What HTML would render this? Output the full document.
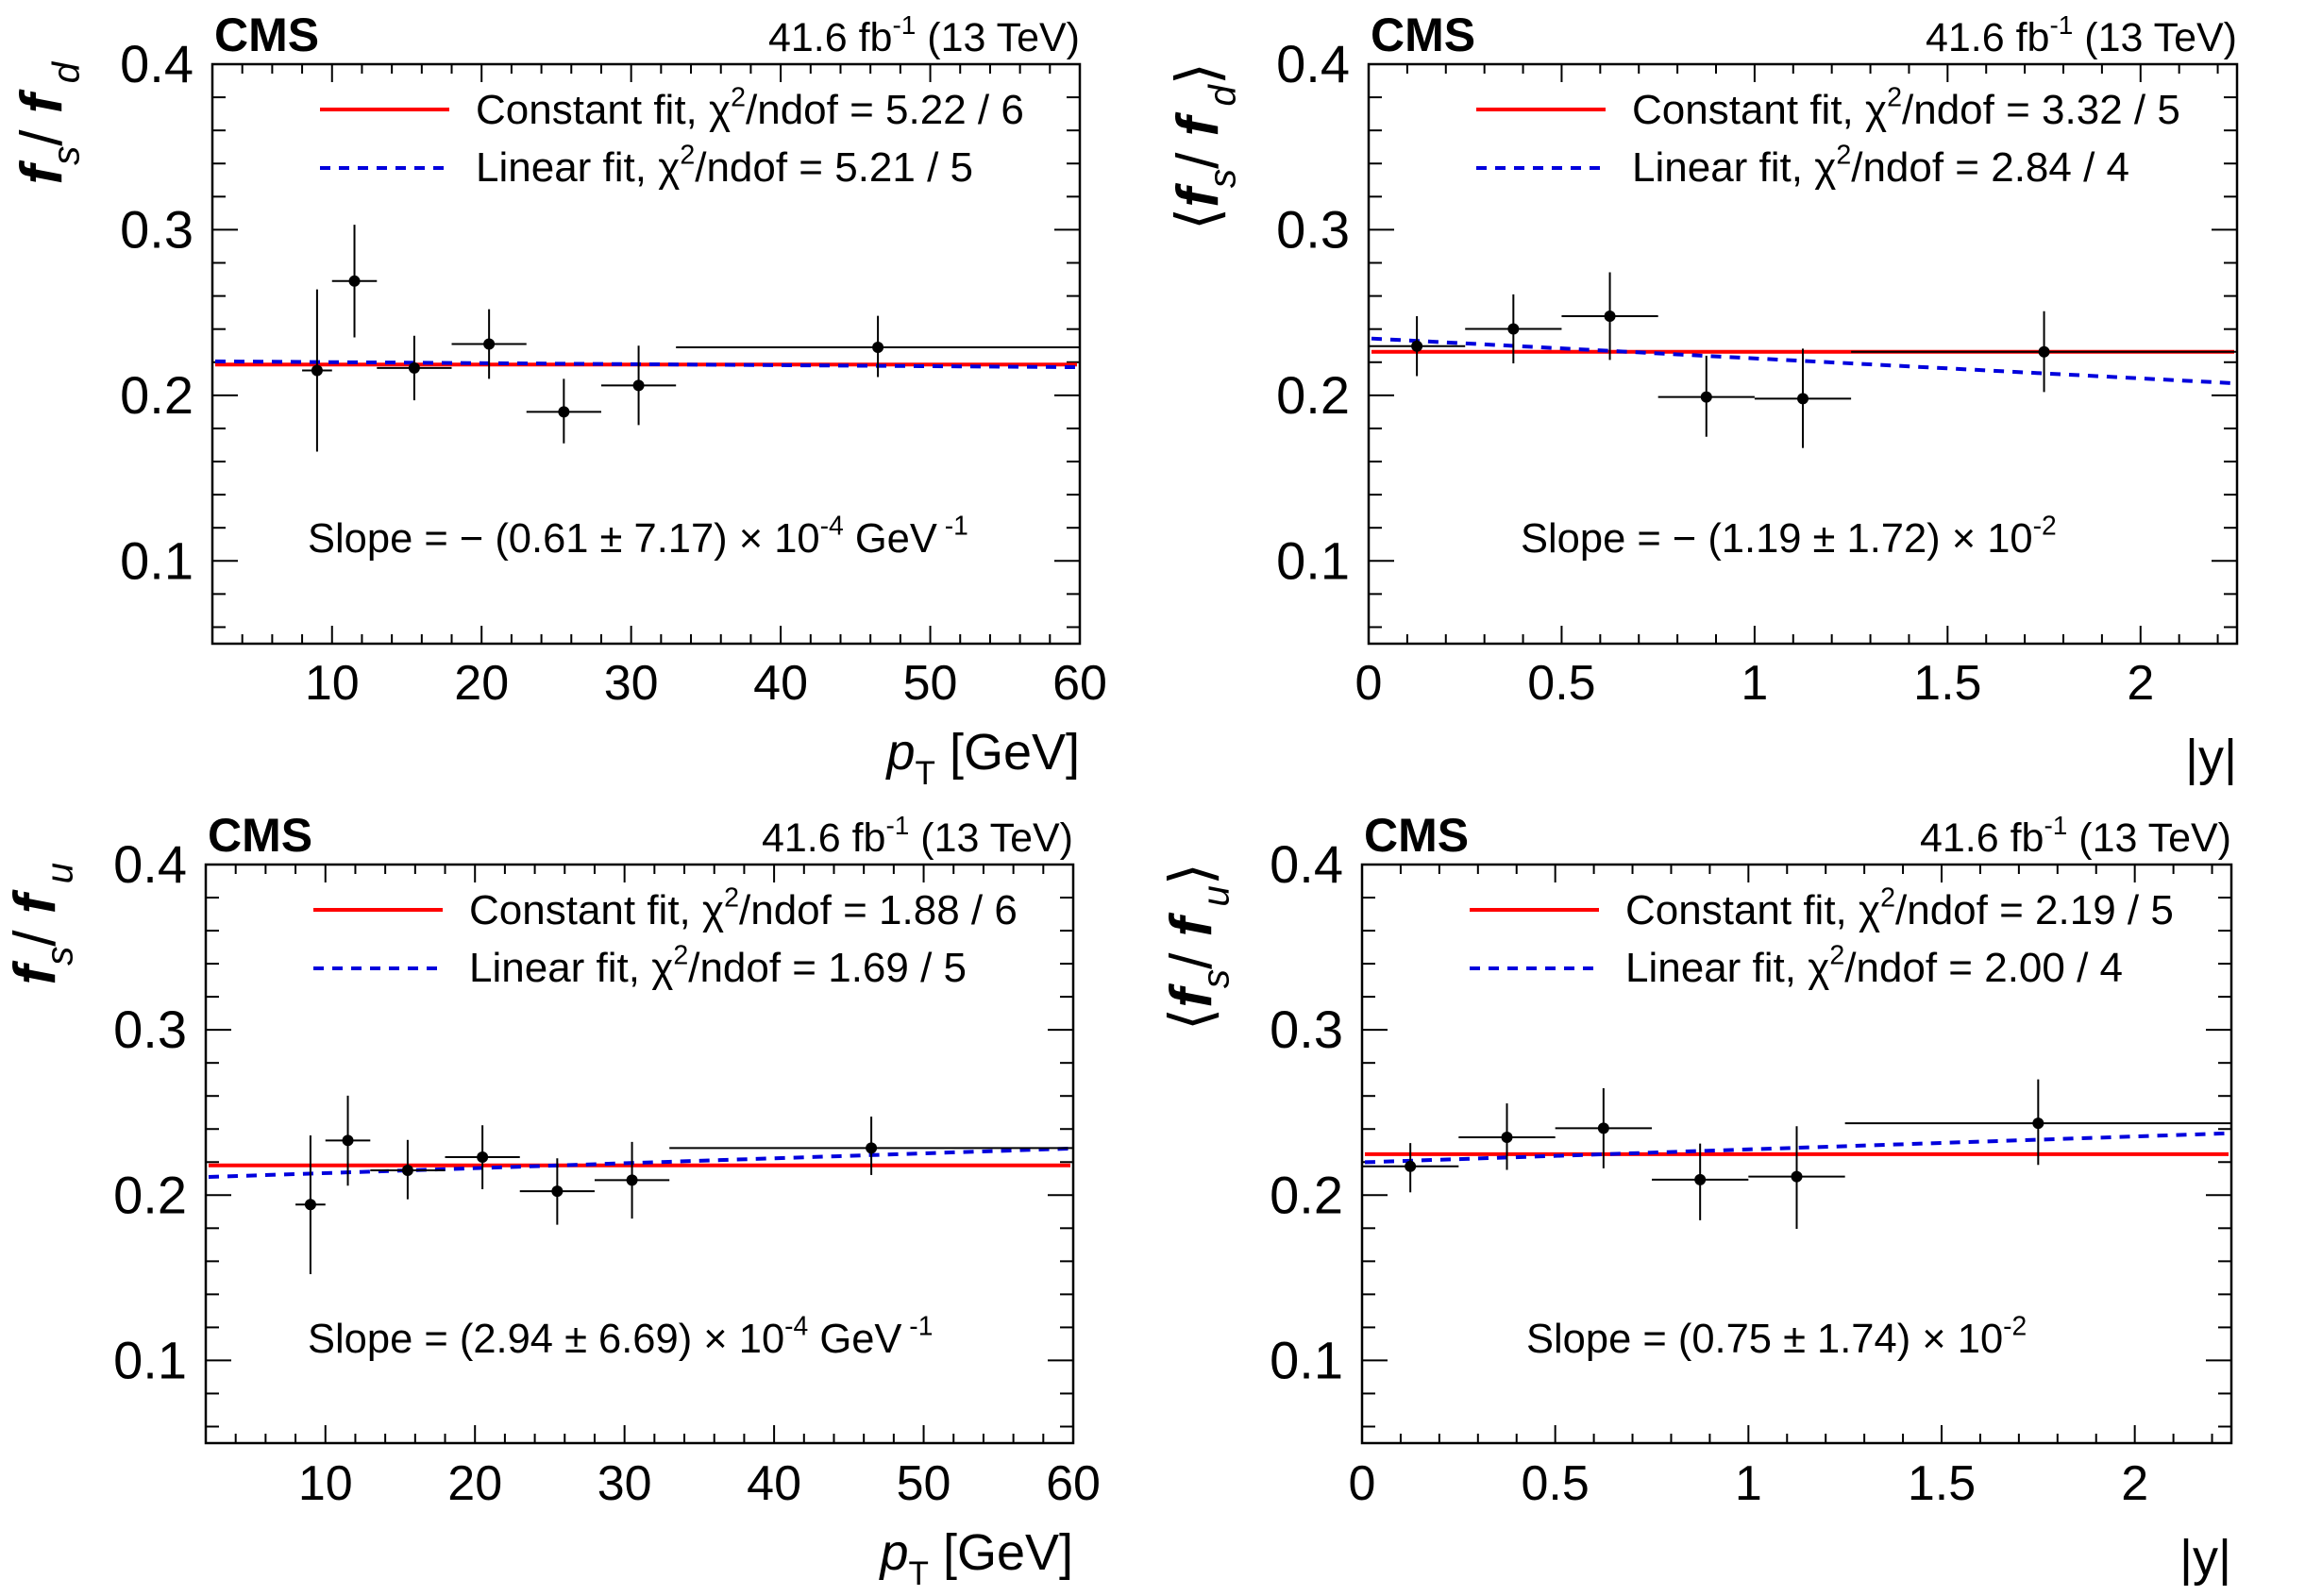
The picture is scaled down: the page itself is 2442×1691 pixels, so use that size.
<!DOCTYPE html>
<html><head><meta charset="utf-8">
<style>
html,body{margin:0;padding:0;background:#fff;}
svg{display:block;font-family:"Liberation Sans",Arial,sans-serif;}
</style></head>
<body>
<svg id="fig" width="2442" height="1691" viewBox="0 0 2442 1691" xmlns="http://www.w3.org/2000/svg"></svg>
<script>
// ---------- data ----------
const ptTicks = [10,20,30,40,50,60];
const ptTickLabels = ["10","20","30","40","50","60"];
const yTicks = [0.1,0.2,0.3,0.4];
const yTickLabels = ["0.1","0.2","0.3","0.4"];
const absyTicks = [0,0.5,1,1.5,2];
const absyTickLabels = ["0","0.5","1","1.5","2"];

const ptX   = [9,11.5,15.5,20.5,25.5,30.5,46.5];
const ptXlo = [8,10,13,18,23,28,33];
const ptXhi = [10,13,18,23,28,33,60];
const yX    = [0.125,0.375,0.625,0.875,1.125,1.75];
const yXlo  = [0,0.25,0.5,0.75,1,1.25];
const yXhi  = [0.25,0.5,0.75,1,1.25,2.25];

const fdPtVal = [0.215,0.269,0.2165,0.231,0.190,0.206,0.229];
const fdPtUp  = [0.264,0.303,0.236,0.252,0.210,0.230,0.248];
const fdPtDn  = [0.166,0.235,0.197,0.210,0.171,0.182,0.211];
const fdPtConst = [0.2186];
const fdPtLin = [0.2205,0.2170];

const fdYVal = [0.2297,0.2401,0.2478,0.199,0.198,0.2263];
const fdYUp  = [0.2478,0.261,0.2743,0.2239,0.2282,0.2508];
const fdYDn  = [0.2116,0.2193,0.2214,0.175,0.1682,0.2020];
const fdYConst = [0.2263];
const fdYLin = [0.2343,0.2073];

const fuPtVal = [0.1943,0.2331,0.215,0.223,0.2024,0.2091,0.2285];
const fuPtUp  = [0.2361,0.2602,0.2334,0.2423,0.2223,0.2322,0.2475];
const fuPtDn  = [0.1522,0.2057,0.1975,0.2036,0.1821,0.1858,0.2122];
const fuPtConst = [0.218];
const fuPtLin = [0.211,0.2282];

const fuYVal = [0.2174,0.235,0.2405,0.2094,0.2112,0.2435];
const fuYUp  = [0.2315,0.2555,0.2647,0.2312,0.2417,0.2700];
const fuYDn  = [0.2017,0.2153,0.2162,0.1848,0.1796,0.2183];
const fuYConst = [0.2248];
const fuYLin = [0.2199,0.2374];

// ---------- drawing ----------
const NS="http://www.w3.org/2000/svg";
const svg=document.getElementById('fig');
function mk(tag,attrs,parent){const e=document.createElementNS(NS,tag);for(const k in attrs)e.setAttribute(k,attrs[k]);(parent||svg).appendChild(e);return e;}

function richText(parent,x,y,parts,size,anchor,extra){
  const t=mk('text',Object.assign({x:x,y:y,'font-size':size,'text-anchor':anchor||'start',fill:'#000'},extra||{}),parent);
  let shift=0;
  parts.forEach(p=>{
    const o={};
    const target=p.sup?-0.42*size:(p.sub?0.3*size:0);
    o.dy=target-shift; shift=target;
    if(p.sup||p.sub)o['font-size']=size*0.65;
    if(p.it)o['font-style']='italic';
    if(p.b)o['font-weight']='bold';
    const s=mk('tspan',o,t); s.textContent=p.t;
  });
  return t;
}

function panel(cfg){
  const g=mk('g',{});  
  const L=cfg.left,T=cfg.top,R=cfg.right,B=cfg.bottom;
  const sx=v=>L+(v-cfg.xmin)/(cfg.xmax-cfg.xmin)*(R-L);
  const sy=v=>B-(v-0.05)/(0.4-0.05)*(B-T);
  const tg=mk('g',{stroke:'#000','stroke-width':2},g);
   
  for(let i=0;;i++){const v=cfg.xminorStart+i*cfg.xminor; if(v>cfg.xmax+1e-9)break; if(v<cfg.xmin-1e-9)continue;
    const major=Math.abs(v/cfg.xmajor-Math.round(v/cfg.xmajor))<1e-6; const len=major?19:10; const x=sx(v);
    mk('line',{x1:x,x2:x,y1:B,y2:B-len},tg); mk('line',{x1:x,x2:x,y1:T,y2:T+len},tg);}
  for(let i=0;;i++){const v=0.06+i*0.02; if(v>0.4+1e-9)break;
    const major=Math.abs(v*10-Math.round(v*10))<1e-6; const len=major?27:14; const y=sy(v);
    mk('line',{x1:L,x2:L+len,y1:y,y2:y},tg); mk('line',{x1:R,x2:R-len,y1:y,y2:y},tg);}
  cfg.xticks.forEach((v,i)=>{const t=mk('text',{x:sx(v),y:T+673,'font-size':52,'text-anchor':'middle'},g);t.textContent=cfg.xlabels[i];
     });
  yTicks.forEach((v,i)=>{const t=mk('text',{x:L-20,y:sy(v)+19,'font-size':56,'text-anchor':'end'},g);t.textContent=yTickLabels[i];
     });
  const cl=mk('line',{x1:L+3,x2:R-3,y1:sy(cfg.cst[0]),y2:sy(cfg.cst[0]),stroke:'#ff0000','stroke-width':4},g);
   
  const ll=mk('line',{x1:L+3,x2:R-3,y1:sy(cfg.lin[0]),y2:sy(cfg.lin[1]),stroke:'#0000dd','stroke-width':4,'stroke-dasharray':'11 9'},g);
   
  cfg.x.forEach((xv,i)=>{
    const pg=mk('g',{stroke:'#000','stroke-width':2},g);
     
    const cx=sx(xv),cy=sy(cfg.val[i]);
    mk('line',{x1:sx(cfg.xlo[i]),x2:sx(cfg.xhi[i]),y1:cy,y2:cy},pg);
    mk('line',{x1:cx,x2:cx,y1:sy(cfg.up[i]),y2:sy(cfg.dn[i])},pg);
    mk('circle',{cx:cx,cy:cy,r:6,fill:'#000',stroke:'none'},pg);
  });
  const fr=mk('rect',{x:L,y:T,width:R-L,height:B-T,fill:'none',stroke:'#000','stroke-width':2.5},g);
   
  const c=mk('text',{x:L+2,y:T-14,'font-size':50,'font-weight':'bold'},g); c.textContent='CMS';
   
  const lu=richText(g,R,T-14,[{t:'41.6 fb'},{t:'-1',sup:true},{t:' (13 TeV)'}],43,'end');
   
  const lg=mk('g',{},g);  
  const l1=mk('line',{x1:L+114,x2:L+251,y1:T+48,y2:T+48,stroke:'#ff0000','stroke-width':4},lg);
   
  const t1=richText(lg,L+279,T+63,[{t:'Constant fit, χ'},{t:'2',sup:true},{t:'/ndof = '+cfg.chiC}],44,'start');
   
  const l2=mk('line',{x1:L+114,x2:L+251,y1:T+110,y2:T+110,stroke:'#0000dd','stroke-width':4,'stroke-dasharray':'11 9'},lg);
   
  const t2=richText(lg,L+279,T+124,[{t:'Linear fit, χ'},{t:'2',sup:true},{t:'/ndof = '+cfg.chiL}],44,'start');
   
  const st=richText(g,L+cfg.slopeX,T+517,cfg.slope,43.5,'start');
   
  const xt=richText(g,R,T+cfg.xtitleY,cfg.xtitle,54,'end');
   
  const yt=richText(g,0,0,cfg.ytitle,62,'end',{transform:'translate('+(L-160)+','+(T-2)+') rotate(-90)'});
   
}

const ptTitle=[{t:'p',it:true},{t:'T',sub:true},{t:' [GeV]'}];
const absyTitle=[{t:'|y|'}];
panel({name:'panel-fsfd-pt',left:225,right:1144,top:68,bottom:682,xmin:2,xmax:60,xmajor:10,xminor:2,xminorStart:2,
  xticks:ptTicks,xlabels:ptTickLabels,x:ptX,xlo:ptXlo,xhi:ptXhi,val:fdPtVal,up:fdPtUp,dn:fdPtDn,cst:fdPtConst,lin:fdPtLin,
  chiC:'5.22 / 6',chiL:'5.21 / 5',slopeX:101,xtitleY:747,xtitle:ptTitle,
  slope:[{t:'Slope = − (0.61 ± 7.17) × 10'},{t:'-4',sup:true},{t:' GeV'},{t:' -1',sup:true}],
  ytitle:[{t:'f',it:true,b:true},{t:'s',it:true,sub:true},{t:'/ '},{t:'f',it:true,b:true},{t:' d',it:true,sub:true}]});
panel({name:'panel-fsfd-absy',left:1450,right:2370,top:68,bottom:682,xmin:0,xmax:2.25,xmajor:0.5,xminor:0.1,xminorStart:0,
  xticks:absyTicks,xlabels:absyTickLabels,x:yX,xlo:yXlo,xhi:yXhi,val:fdYVal,up:fdYUp,dn:fdYDn,cst:fdYConst,lin:fdYLin,
  chiC:'3.32 / 5',chiL:'2.84 / 4',slopeX:161,xtitleY:753,xtitle:absyTitle,
  slope:[{t:'Slope = − (1.19 ± 1.72) × 10'},{t:'-2',sup:true}],
  ytitle:[{t:'⟨'},{t:'f',it:true,b:true},{t:'s',it:true,sub:true},{t:'/ '},{t:'f',it:true,b:true},{t:' d',it:true,sub:true},{t:'⟩'}]});
panel({name:'panel-fsfu-pt',left:218,right:1137,top:916,bottom:1529,xmin:2,xmax:60,xmajor:10,xminor:2,xminorStart:2,
  xticks:ptTicks,xlabels:ptTickLabels,x:ptX,xlo:ptXlo,xhi:ptXhi,val:fuPtVal,up:fuPtUp,dn:fuPtDn,cst:fuPtConst,lin:fuPtLin,
  chiC:'1.88 / 6',chiL:'1.69 / 5',slopeX:108,xtitleY:747,xtitle:ptTitle,
  slope:[{t:'Slope =  (2.94 ± 6.69) × 10'},{t:'-4',sup:true},{t:' GeV'},{t:' -1',sup:true}],
  ytitle:[{t:'f',it:true,b:true},{t:'s',it:true,sub:true},{t:'/ '},{t:'f',it:true,b:true},{t:' u',it:true,sub:true}]});
panel({name:'panel-fsfu-absy',left:1443,right:2364,top:916,bottom:1529,xmin:0,xmax:2.25,xmajor:0.5,xminor:0.1,xminorStart:0,
  xticks:absyTicks,xlabels:absyTickLabels,x:yX,xlo:yXlo,xhi:yXhi,val:fuYVal,up:fuYUp,dn:fuYDn,cst:fuYConst,lin:fuYLin,
  chiC:'2.19 / 5',chiL:'2.00 / 4',slopeX:174,xtitleY:753,xtitle:absyTitle,
  slope:[{t:'Slope =  (0.75 ± 1.74) × 10'},{t:'-2',sup:true}],
  ytitle:[{t:'⟨'},{t:'f',it:true,b:true},{t:'s',it:true,sub:true},{t:'/ '},{t:'f',it:true,b:true},{t:' u',it:true,sub:true},{t:'⟩'}]});
</script>
</body></html>
